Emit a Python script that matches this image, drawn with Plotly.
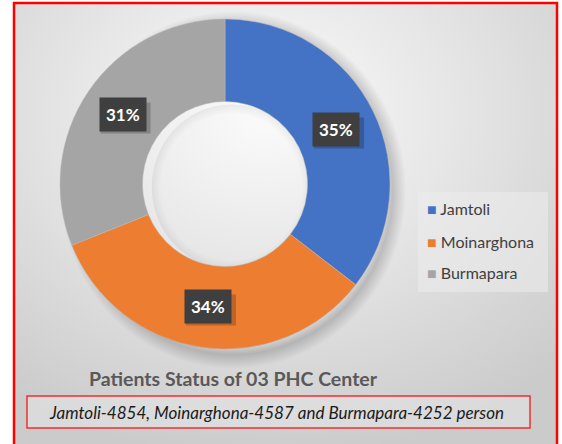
import base64
import math
import plotly.graph_objects as go

# data
centers = ["Jamtoli", "Moinarghona", "Burmapara"]
patients = [4854, 4587, 4252]
pct_labels = ["35%", "34%", "31%"]
colors = ["#4472C4", "#ED7D31", "#A5A5A5"]

W, H = 562, 444
FONT = "Lato"


def px(x):
    return x / W


def py(y):
    return 1 - y / H


# donut placement in pixels
cx, cy, r = 225, 184, 165
hole = 0.5

# radial gradient background (plus soft donut shadow) as an inline svg image
bg_svg = f"""<svg xmlns='http://www.w3.org/2000/svg' width='{W}' height='{H}'>
<defs><radialGradient id='g' cx='0.46' cy='0.25' r='0.78'>
<stop offset='0' stop-color='#fbfbfb'/><stop offset='0.45' stop-color='#e6e6e6'/>
<stop offset='1' stop-color='#cbcbcb'/></radialGradient>
<radialGradient id='s' cx='0.5' cy='0.5' r='0.5'>
<stop offset='0' stop-color='#000' stop-opacity='0'/>
<stop offset='0.86' stop-color='#000' stop-opacity='0'/>
<stop offset='0.92' stop-color='#000' stop-opacity='0.18'/>
<stop offset='1' stop-color='#000' stop-opacity='0'/></radialGradient>
<radialGradient id='h' cx='0.5' cy='0.5' r='0.5'>
<stop offset='0.88' stop-color='#000' stop-opacity='0'/>
<stop offset='1' stop-color='#000' stop-opacity='0.06'/></radialGradient></defs>
<rect width='{W}' height='{H}' fill='url(#g)'/>
<circle cx='{cx + 2}' cy='{cy + 3}' r='{r + 14}' fill='url(#s)'/>
<circle cx='{cx}' cy='{cy}' r='{r * hole}' fill='url(#h)'/>
</svg>"""
bg_uri = "data:image/svg+xml;base64," + base64.b64encode(bg_svg.encode()).decode()

fig = go.Figure(
    go.Pie(
        labels=centers,
        values=patients,
        hole=hole,
        sort=False,
        direction="clockwise",
        rotation=0,
        marker=dict(colors=colors, line=dict(color="#b8b8b8", width=0.5)),
        textinfo="none",
        showlegend=False,
        domain=dict(x=[px(cx - r), px(cx + r)], y=[py(cy + r), py(cy - r)]),
    )
)


def note(x, y, text, font, **kw):
    return dict(x=px(x), y=py(y), xref="paper", yref="paper", text=text,
                showarrow=False, font=font, xanchor=kw.pop("xanchor", "center"),
                yanchor="middle", **kw)


# percentage labels in dark boxes, placed at each slice's middle angle
total = sum(patients)
cum = 0
r_mid = r * (1 + hole) / 2
annotations = []
shapes = []
for v, lab in zip(patients, pct_labels):
    ang = 2 * math.pi * (cum + v / 2) / total
    cum += v
    lx = cx + r_mid * math.sin(ang)
    ly = cy - r_mid * math.cos(ang)
    # drop shadow behind the label box
    shapes.append(dict(
        type="rect", xref="paper", yref="paper",
        x0=px(lx - 22), x1=px(lx + 28), y0=py(ly + 19), y1=py(ly - 12),
        fillcolor="rgba(0,0,0,0.2)", line=dict(width=0),
    ))
    annotations.append(note(lx, ly, f"<b>{lab}</b>",
                            dict(family=FONT, size=17, color="white"),
                            bgcolor="#3f3f3f", borderpad=6))

# legend built from annotations
leg_y = [209, 241, 272]
for name, c, ly in zip(centers, colors, leg_y):
    annotations.append(note(425, ly, f"<span style='color:{c}'>■</span> {name}",
                            dict(family=FONT, size=16, color="#404040"),
                            xanchor="left"))

annotations.append(note(233, 378, "<b>Patients Status of 03 PHC Center</b>",
                        dict(family=FONT, size=19.5, color="#595959")))
annotations.append(note(
    276, 412, "<i>Jamtoli-4854, Moinarghona-4587 and Burmapara-4252 person</i>",
    dict(family=FONT, size=17, color="#1a1a1a")))

shapes += [
    # legend panel
    dict(type="rect", xref="paper", yref="paper", x0=px(418), x1=px(548),
         y0=py(292), y1=py(192), fillcolor="rgba(236,236,236,0.55)",
         line=dict(width=0), layer="below"),
    # note box
    dict(type="rect", xref="paper", yref="paper", x0=px(27), x1=px(530),
         y0=py(428), y1=py(396), fillcolor="rgba(228,228,228,0.6)",
         line=dict(color="#f03030", width=1.5), layer="below"),
    # outer red frame
    dict(type="rect", xref="paper", yref="paper", x0=px(14), x1=px(557),
         y0=-0.05, y1=py(3), line=dict(color="#ff0000", width=2.5)),
]

fig.update_layout(
    width=W, height=H,
    margin=dict(l=0, r=0, t=0, b=0),
    paper_bgcolor="white",
    plot_bgcolor="white",
    images=[dict(source=bg_uri, xref="paper", yref="paper", x=px(14), y=py(3),
                 sizex=px(557 - 14), sizey=1, sizing="stretch",
                 xanchor="left", yanchor="top", layer="below")],
    annotations=annotations,
    shapes=shapes,
)

fig.write_html("out.html", config={"displayModeBar": False},
               post_script="document.body.style.margin='0';")
